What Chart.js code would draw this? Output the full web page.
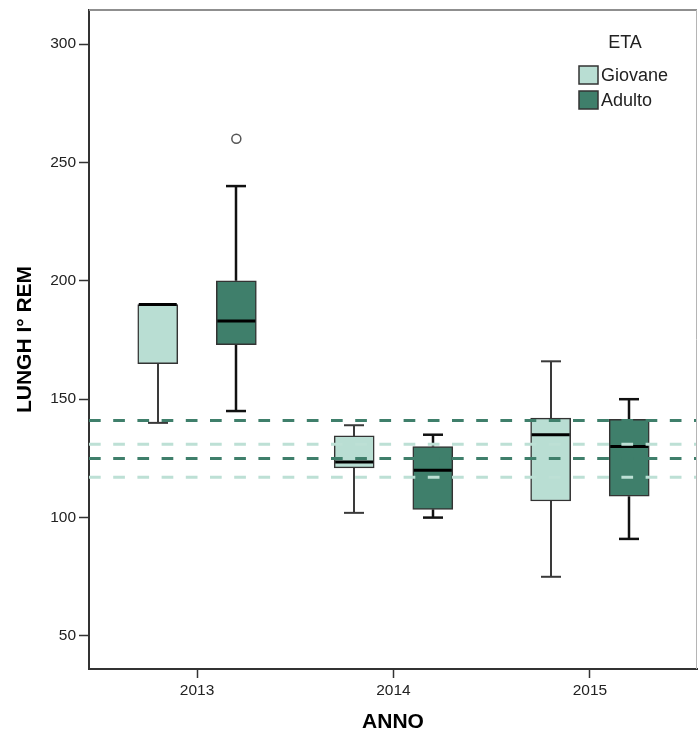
<!DOCTYPE html>
<html>
<head>
<meta charset="utf-8">
<title>LUNGH I° REM per ANNO</title>
<script src="https://cdn.jsdelivr.net/npm/chart.js@4.4.1/dist/chart.umd.min.js"></script>
<style>
  html, body { margin: 0; padding: 0; background: #fff; }
  #wrap { width: 698px; height: 735px; }
</style>
</head>
<body>
<div id="wrap"><canvas id="chart" width="698" height="735"></canvas></div>
<script>
const years = ['2013', '2014', '2015'];
const yTicks = [50, 100, 150, 200, 250, 300];

// whisker low, Q1, median, Q3, whisker high for each year
const giovaneMin = [140, 102, 75];
const giovaneQ1 = [165, 121, 107];
const giovaneMed = [190, 123.5, 135];
const giovaneQ3 = [190, 134.5, 142];
const giovaneMax = [190, 139, 166];
const giovaneOut = [[], [], []];

const adultoMin = [145, 100, 91];
const adultoQ1 = [173, 103.5, 109];
const adultoMed = [183, 120, 130];
const adultoQ3 = [200, 130, 141.5];
const adultoMax = [240, 135, 150];
const adultoOut = [[260], [], []];

// dashed reference lines
const refGiovane = [131, 117];
const refAdulto = [141, 125];

const LIGHT = '#b9ded3';
const DARK = '#3f7f6b';
const FONT = '"Liberation Sans", Arial, sans-serif';

function boxDataset(label, q1, med, q3, lo, hi, out, shift, fill, whisker, whiskerWidth) {
  return {
    label: label,
    data: q1.map((v, i) => ({ x: i + shift, y: [v, q3[i]] })),
    stats: { med: med, lo: lo, hi: hi, q1: q1, q3: q3, out: out },
    shift: shift,
    backgroundColor: fill,
    borderColor: '#333',
    borderWidth: 1.5,
    borderSkipped: false,
    barThickness: 40,
    grouped: false,
    whiskerColor: whisker,
    whiskerWidth: whiskerWidth
  };
}

const boxExtras = {
  id: 'boxExtras',
  beforeDatasetsDraw(chart) {
    const { ctx, scales: { x, y } } = chart;
    chart.data.datasets.forEach(ds => {
      const s = ds.stats;
      ctx.save();
      ctx.strokeStyle = ds.whiskerColor;
      ctx.lineWidth = ds.whiskerWidth;
      s.lo.forEach((lo, i) => {
        const cx = Math.round(x.getPixelForValue(i + ds.shift));
        const segs = [[lo, s.q1[i]], [s.q3[i], s.hi[i]]];
        segs.forEach(([a, b]) => {
          if (a === b) return;
          ctx.beginPath();
          ctx.moveTo(cx, y.getPixelForValue(a));
          ctx.lineTo(cx, y.getPixelForValue(b));
          ctx.stroke();
        });
        [lo, s.hi[i]].forEach((v, k) => {
          if (v === (k ? s.q3[i] : s.q1[i])) return;
          const py = y.getPixelForValue(v);
          ctx.beginPath();
          ctx.moveTo(cx - 10, py);
          ctx.lineTo(cx + 10, py);
          ctx.stroke();
        });
      });
      ctx.restore();
    });
  },
  afterDatasetsDraw(chart) {
    const { ctx, chartArea: area, scales: { x, y } } = chart;
    chart.data.datasets.forEach((ds, di) => {
      const meta = chart.getDatasetMeta(di);
      ctx.save();
      // medians
      ctx.strokeStyle = '#000';
      ctx.lineWidth = 3;
      ds.stats.med.forEach((m, i) => {
        const bar = meta.data[i];
        const py = y.getPixelForValue(m);
        ctx.beginPath();
        ctx.moveTo(bar.x - bar.width / 2 + 1, py);
        ctx.lineTo(bar.x + bar.width / 2 - 1, py);
        ctx.stroke();
      });
      // outliers
      ctx.lineWidth = 1.5;
      ctx.strokeStyle = '#555';
      ctx.fillStyle = '#fff';
      ds.stats.out.forEach((list, i) => {
        list.forEach(v => {
          ctx.beginPath();
          ctx.arc(x.getPixelForValue(i + ds.shift), y.getPixelForValue(v), 4.5, 0, Math.PI * 2);
          ctx.fill();
          ctx.stroke();
        });
      });
      ctx.restore();
    });

    // reference lines
    ctx.save();
    ctx.lineWidth = 3;
    ctx.setLineDash([11.7, 12.5]);
    [[refAdulto, DARK], [refGiovane, '#bde0d5']].forEach(([vals, col]) => {
      ctx.strokeStyle = col;
      vals.forEach(v => {
        const py = y.getPixelForValue(v);
        ctx.beginPath();
        ctx.moveTo(area.left, py);
        ctx.lineTo(area.right, py);
        ctx.stroke();
      });
    });
    ctx.restore();
  },
  afterDraw(chart) {
    const { ctx, chartArea: area } = chart;
    ctx.save();
    // top and right frame
    ctx.strokeStyle = '#8f8f8f';
    ctx.lineWidth = 2;
    ctx.beginPath();
    ctx.moveTo(area.left, area.top);
    ctx.lineTo(area.right, area.top);
    ctx.stroke();
    ctx.strokeStyle = '#b5b5b5';
    ctx.lineWidth = 1;
    ctx.beginPath();
    ctx.moveTo(area.right - 0.5, area.top);
    ctx.lineTo(area.right - 0.5, area.bottom);
    ctx.stroke();

    // legend
    const lx = area.right - 118;
    ctx.fillStyle = '#222';
    ctx.font = '18px ' + FONT;
    ctx.textAlign = 'center';
    ctx.textBaseline = 'middle';
    ctx.fillText('ETA', area.right - 72, area.top + 33);
    ctx.textAlign = 'left';
    chart.data.datasets.forEach((ds, i) => {
      const top = area.top + 56 + i * 25;
      ctx.fillStyle = ds.backgroundColor;
      ctx.fillRect(lx, top, 19, 18);
      ctx.strokeStyle = '#333';
      ctx.lineWidth = 1.5;
      ctx.strokeRect(lx, top, 19, 18);
      ctx.fillStyle = '#222';
      ctx.fillText(ds.label, lx + 22, top + 10);
    });
    ctx.restore();
  }
};

new Chart(document.getElementById('chart'), {
  type: 'bar',
  data: {
    datasets: [
      boxDataset('Giovane', giovaneQ1, giovaneMed, giovaneQ3, giovaneMin, giovaneMax, giovaneOut, -0.2, LIGHT, '#3a3a3a', 2),
      boxDataset('Adulto', adultoQ1, adultoMed, adultoQ3, adultoMin, adultoMax, adultoOut, 0.2, DARK, '#111', 2.5)
    ]
  },
  options: {
    responsive: false,
    animation: false,
    devicePixelRatio: 1,
    layout: { padding: { top: 10, right: 1, left: 0, bottom: 0 } },
    plugins: { legend: { display: false }, tooltip: { enabled: false } },
    scales: {
      x: {
        type: 'linear',
        min: -0.55,
        max: 2.545,
        offset: false,
        afterBuildTicks: s => { s.ticks = years.map((_, i) => ({ value: i })); },
        afterFit: s => { s.height = 66; s.paddingLeft = 0; s.paddingRight = 0; },
        grid: { drawOnChartArea: false, offset: false, tickLength: 9, tickColor: '#333', tickWidth: 1.5 },
        border: { color: '#333', width: 2 },
        ticks: {
          callback: v => years[v],
          color: '#222',
          font: { family: FONT, size: 15.5 },
          padding: 3,
          maxRotation: 0,
          autoSkip: false
        },
        title: {
          display: true,
          text: 'ANNO',
          color: '#000',
          font: { family: FONT, size: 21, weight: 'bold' },
          padding: { top: 0, bottom: 0 }
        }
      },
      y: {
        min: 36.06,
        max: 314.36,
        afterBuildTicks: s => { s.ticks = yTicks.map(v => ({ value: v })); },
        afterFit: s => { s.width = 89; s.paddingTop = 0; s.paddingBottom = 0; },
        grid: { drawOnChartArea: false, tickLength: 10, tickColor: '#333', tickWidth: 1.5 },
        border: { color: '#333', width: 2 },
        ticks: { color: '#222', font: { family: FONT, size: 15.5 }, padding: 3 },
        title: {
          display: true,
          text: 'LUNGH I° REM',
          color: '#000',
          font: { family: FONT, size: 21, weight: 'bold' },
          padding: { top: 13, bottom: 0 }
        }
      }
    }
  },
  plugins: [boxExtras]
});
</script>
</body>
</html>
